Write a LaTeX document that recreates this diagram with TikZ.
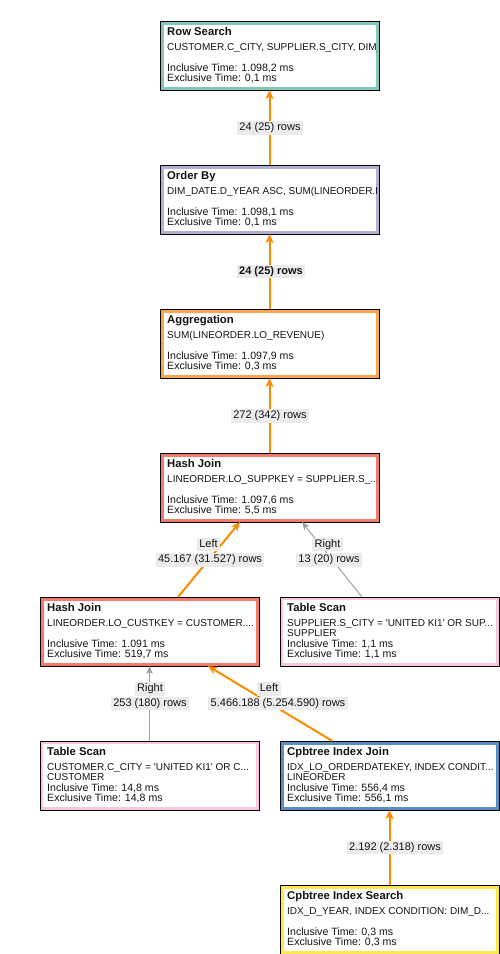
\documentclass[tikz,border=0pt]{standalone}
\usepackage{fontspec}
\setmainfont{Liberation Sans}[Ligatures=TeXOff]
\usetikzlibrary{arrows.meta,calc}

\definecolor{bandteal}{HTML}{80C8B9}
\definecolor{bandlav}{HTML}{B3AED6}
\definecolor{bandorange}{HTML}{FBA54C}
\definecolor{bandsalmon}{HTML}{F27B70}
\definecolor{bandpink}{HTML}{F7C6DF}
\definecolor{bandblue}{HTML}{5B8FC4}
\definecolor{bandyellow}{HTML}{FFE74C}
\definecolor{flow}{HTML}{FF8A00}
\definecolor{flowgray}{HTML}{A0A0A0}
\definecolor{lblbg}{HTML}{EBEBEB}
\definecolor{ink}{HTML}{141414}

\tikzset{
  opbox/.style={draw=black, line width=1pt, fill=white,
    minimum width=219pt, minimum height=69pt, inner sep=0pt, outer sep=0pt,
    path picture={\draw[line width=7pt, #1]
      (path picture bounding box.south west) rectangle
      (path picture bounding box.north east);}},
  ttl/.style={font=\fontsize{11.3}{13}\selectfont\bfseries, text=ink,
    inner sep=0pt, anchor=base west},
  subl/.style={font=\fontsize{10}{12}\selectfont, text=ink,
    inner sep=0pt, anchor=base west},
  tml/.style={font=\fontsize{10.6}{12}\selectfont, text=ink,
    inner sep=0pt, anchor=base west},
  lbl/.style={fill=lblbg, text=ink, font=\fontsize{11}{13}\selectfont,
    inner xsep=2.5pt, inner ysep=1.5pt, text height=8pt, text depth=2.5pt},
  flowarrow/.style={draw=flow, line width=2pt,
    -{Stealth[length=9pt,width=8pt,inset=2.5pt]}},
  grayarrow/.style={draw=flowgray, line width=1pt,
    -{Stealth[length=8pt,width=6.5pt,inset=2pt]}},
}

% \planop{name}{left}{top}{band style}{title}{line 2}{line 3}{inclusive}{exclusive}
\newcommand{\planop}[9]{%
  \node[opbox={#4}] (#1) at (#2+109.5, #3+34.5) {};
  \begin{scope}
    \clip (#2+3, #3+3) rectangle (#2+216, #3+66);
    \node[ttl] (#1-title) at (#2+7, #3+14.5) {#5};
    \node[subl] (#1-cond) at (#2+7, #3+29) {#6};
    \if\relax\detokenize{#7}\relax\else
      \node[subl] (#1-obj) at (#2+7, #3+39.5) {#7};
    \fi
    \node[tml] (#1-incl) at (#2+7, #3+50) {#8};
    \node[tml] (#1-excl) at (#2+7, #3+60.5) {#9};
  \end{scope}%
}

\begin{document}
\begin{tikzpicture}[x=1pt, y=-1pt]
  \useasboundingbox (0,0) rectangle (500,954);

  % operator boxes
  \planop{rs}{160}{21}{bandteal}{Row Search}
    {CUSTOMER.C\_CITY, SUPPLIER.S\_CITY, DIM\_DATE.D\_YEAR}{}
    {Inclusive Time: 1.098,2 ms}{Exclusive Time: 0,1 ms}
  \planop{ob}{160}{165}{bandlav}{Order By}
    {DIM\_DATE.D\_YEAR ASC, SUM(LINEORDER.LO\_REVENUE)}{}
    {Inclusive Time: 1.098,1 ms}{Exclusive Time: 0,1 ms}
  \planop{agg}{160}{309}{bandorange}{Aggregation}
    {SUM(LINEORDER.LO\_REVENUE)}{}
    {Inclusive Time: 1.097,9 ms}{Exclusive Time: 0,3 ms}
  \planop{hja}{160}{453}{bandsalmon}{Hash Join}
    {LINEORDER.LO\_SUPPKEY = SUPPLIER.S\_...}{}
    {Inclusive Time: 1.097,6 ms}{Exclusive Time: 5,5 ms}
  \planop{hjb}{40}{597}{bandsalmon}{Hash Join}
    {LINEORDER.LO\_CUSTKEY = CUSTOMER....}{}
    {Inclusive Time: 1.091 ms}{Exclusive Time: 519,7 ms}
  \planop{tss}{280}{597}{{bandpink, line width=5.5pt}}{Table Scan}
    {SUPPLIER.S\_CITY = 'UNITED KI1' OR SUP...}{SUPPLIER}
    {Inclusive Time: 1,1 ms}{Exclusive Time: 1,1 ms}
  \planop{tsc}{40}{741}{{bandpink, line width=5.5pt}}{Table Scan}
    {CUSTOMER.C\_CITY = 'UNITED KI1' OR C...}{CUSTOMER}
    {Inclusive Time: 14,8 ms}{Exclusive Time: 14,8 ms}
  \planop{ij}{280}{741}{bandblue}{Cpbtree Index Join}
    {IDX\_LO\_ORDERDATEKEY, INDEX CONDIT...}{LINEORDER}
    {Inclusive Time: 556,4 ms}{Exclusive Time: 556,1 ms}
  \planop{is}{280}{885}{bandyellow}{Cpbtree Index Search}
    {IDX\_D\_YEAR, INDEX CONDITION: DIM\_D...}{}
    {Inclusive Time: 0,3 ms}{Exclusive Time: 0,3 ms}

  % entry points on the join inputs
  \coordinate (hja-left)  at (240,522);
  \coordinate (hja-right) at (302,522);
  \coordinate (hjb-left)  at (208,666);

  % data flow
  \draw[flowarrow] (ob) -- (rs);
  \draw[flowarrow] (agg) -- (ob);
  \draw[flowarrow] (hja) -- (agg);
  \draw[flowarrow] (hjb) -- (hja-left);
  \draw[grayarrow] (tss) -- (hja-right);
  \draw[grayarrow] (tsc) -- (hjb);
  \draw[flowarrow] (ij) -- (hjb-left);
  \draw[flowarrow] (is) -- (ij);

  % row counts
  \node[lbl] (c-ob) at (270,128) {24 (25) rows};
  \node[lbl, font=\fontsize{11}{13}\selectfont\bfseries] (c-agg) at (271,271.5) {24 (25) rows};
  \node[lbl] (c-hja) at (270,416) {272 (342) rows};
  \node[lbl] (s-hjb) at (208.5,544.5) {Left};
  \node[lbl] (c-hjb) at (210,560) {45.167 (31.527) rows};
  \node[lbl] (s-tss) at (327.5,544.5) {Right};
  \node[lbl] (c-tss) at (329,560) {13 (20) rows};
  \node[lbl] (s-tsc) at (150,689) {Right};
  \node[lbl] (c-tsc) at (150,703.5) {253 (180) rows};
  \node[lbl] (s-ij) at (269,689) {Left};
  \node[lbl] (c-ij) at (278,703.5) {5.466.188 (5.254.590) rows\hspace{16pt}};
  \node[lbl] (c-is) at (395,847.5) {2.192 (2.318) rows\hspace{10pt}};
\end{tikzpicture}
\end{document}
